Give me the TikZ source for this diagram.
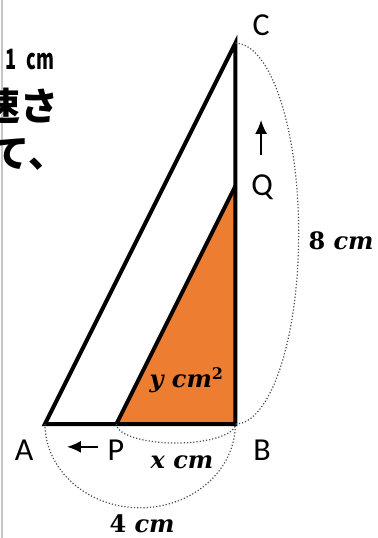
\documentclass[tikz,border=0pt]{standalone}
\usepackage{fontspec}
\setmainfont{Carlito}
\newfontfamily\jp{Noto Sans CJK JP}
\newfontfamily\jpn{Noto Sans CJK JP}[FakeStretch=0.65]
\newfontfamily\lenfont{DejaVu Serif}
\usetikzlibrary{arrows.meta}
\definecolor{tri}{HTML}{ED7D31}
\tikzset{>={Latex[length=7pt,width=6pt]},every node/.style={font=\fontsize{16}{18}\selectfont},
  edge/.style={line width=2pt},move/.style={line width=1pt,->},
  dim/.style={densely dotted,line width=.6pt,draw=black!70},
  len/.style={font=\fontsize{12}{14}\selectfont\lenfont\bfseries},
  jtxt/.style={font=\fontsize{19}{21}\selectfont\jp\bfseries,anchor=east,inner sep=0pt}}

\begin{document}
\begin{tikzpicture}[x=23.8pt,y=23.8pt]
\useasboundingbox (-.945,-2.395) rectangle (6.996,8.908);
\clip (-.945,-2.395) rectangle (6.996,8.908);
\draw[gray!45,line width=1pt] (-.903,-2.395)--(-.903,8.908);
\node[jtxt,font=\fontsize{14}{16}\selectfont\jpn\bfseries] (t1) at (.21,7.65) {1\hspace{5pt}cm};
\node[jtxt] (t2) at (.30,6.68) {速さ};
\node[jtxt] (t3) at (.45,5.67) {して、};

\coordinate (A) at (0,0);\coordinate (B) at (4,0);\coordinate (C) at (4,8);
\coordinate (P) at (1.5,0);\coordinate (Q) at (4,5);
\fill[tri] (P)--(B)--(Q)--cycle;
\draw[edge] (A)--(B)--(C)--cycle;
\draw[edge] (P)--(Q);
% dotted lengths
\draw[dim] (C) arc[start angle=90,end angle=-90,x radius=1.33,y radius=4];
\draw[dim] (A) arc[start angle=180,end angle=360,x radius=2,y radius=1.76];
\draw[dim] (P) arc[start angle=180,end angle=360,x radius=1.25,y radius=.4];

\node (lC) at (4.54,8.38){C};\node (lQ) at (4.56,4.98){Q};
\node (lA) at (-.44,-.55){A};\node (lP) at (1.49,-.55){P};\node (lB) at (4.56,-.55){B};
\coordinate (q0) at (4.54,5.65);\coordinate (q1) at (4.54,6.39);\draw[move] (q0)--(q1);
\coordinate (p0) at (1.11,-.48);\coordinate (p1) at (.46,-.48);\draw[move] (p0)--(p1);

\node[len] (lx) at (2.88,-.8){\itshape x cm};
\node[len] (l4) at (2.04,-2.1){4 \textit{cm}};
\node[len] (l8) at (6.22,3.84){8 \textit{cm}};
\node[len] (ly) at (2.98,.92){\itshape y cm\textsuperscript{\upshape 2}};
\end{tikzpicture}
\end{document}
